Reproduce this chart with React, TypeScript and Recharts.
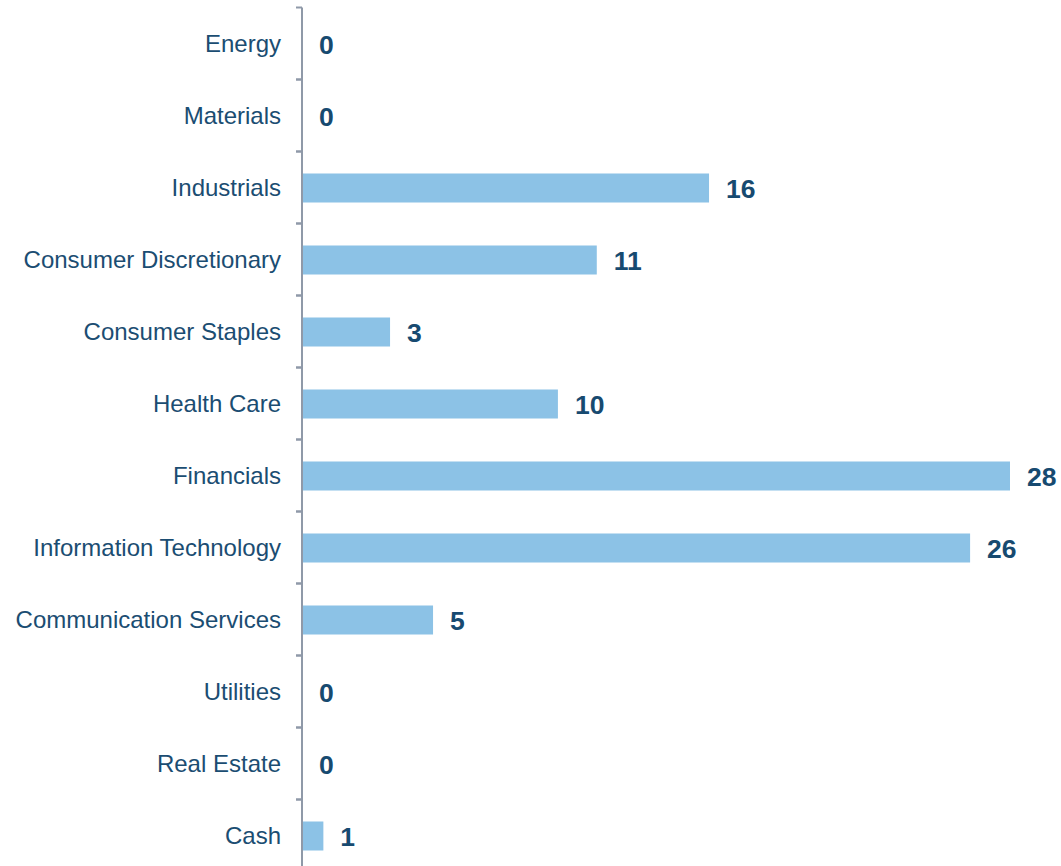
import React from "react";
import { BarChart, Bar, XAxis, YAxis } from "recharts";

const categories = [
  "Energy",
  "Materials",
  "Industrials",
  "Consumer Discretionary",
  "Consumer Staples",
  "Health Care",
  "Financials",
  "Information Technology",
  "Communication Services",
  "Utilities",
  "Real Estate",
  "Cash",
];
const weights = [0, 0, 15.81, 11.45, 3.42, 9.94, 27.5, 25.95, 5.09, 0, 0, 0.83];

const data = categories.map((name, i) => ({ name, value: weights[i] }));

const FONT = "'Liberation Sans', Arial, Helvetica, sans-serif";
const TEXT = "#1B4D72";
const AXIS = "#8F99A8";
const BAR = "#8CC2E6";
const CHART_H = 880;
const MARGIN = { top: 7.5, right: 51, bottom: 8.5, left: 0 };
const BAND = (CHART_H - MARGIN.top - MARGIN.bottom) / categories.length;
const TICK_SIZE = 6;
const TICK_MARGIN = 15;

const CategoryTick = (props: any) => {
  const { x, y, payload } = props;
  const lx1 = x + TICK_MARGIN;
  const lx2 = lx1 + TICK_SIZE;
  return (
    <g>
      <line x1={lx1} x2={lx2} y1={y - BAND / 2} y2={y - BAND / 2} stroke={AXIS} strokeWidth={2} />
      <line x1={lx1} x2={lx2} y1={y + BAND / 2} y2={y + BAND / 2} stroke={AXIS} strokeWidth={2} />
      <text
        x={x}
        y={y}
        dy="0.35em"
        textAnchor="end"
        fill={TEXT}
        fontSize={24}
        fontFamily={FONT}
      >
        {payload.value}
      </text>
    </g>
  );
};

const BarWithLabel = (props: any) => {
  const x = Number(props.x);
  const y = Number(props.y);
  const width = Math.max(0, Number(props.width) || 0);
  const height = Number(props.height);
  const value = props.payload ? props.payload.value : props.value;
  return (
    <g>
      {width > 0 && <rect x={x} y={y} width={width} height={height} fill={BAR} />}
      <text
        x={x + width + 17}
        y={y + height / 2}
        dy="0.36em"
        textAnchor="start"
        fill="#174A70"
        fontWeight="bold"
        fontSize={26.5}
        fontFamily={FONT}
      >
        {Math.round(Number(value))}
      </text>
    </g>
  );
};

export default function App() {
  return (
    <div style={{ position: "absolute", left: 0, top: 0, background: "#fff" }}>
      <BarChart
        width={1061}
        height={CHART_H}
        data={data}
        layout="vertical"
        margin={MARGIN}
        barCategoryGap={0}
      >
        <XAxis type="number" hide domain={[0, "dataMax"]} />
        <YAxis
          type="category"
          dataKey="name"
          width={302}
          axisLine={{ stroke: AXIS, strokeWidth: 2 }}
          tickLine={false}
          tickSize={TICK_SIZE}
          tickMargin={TICK_MARGIN}
          interval={0}
          tick={<CategoryTick />}
        />
        <Bar
          dataKey="value"
          fill={BAR}
          barSize={29}
          isAnimationActive={false}
          shape={<BarWithLabel />}
        />
      </BarChart>
    </div>
  );
}
